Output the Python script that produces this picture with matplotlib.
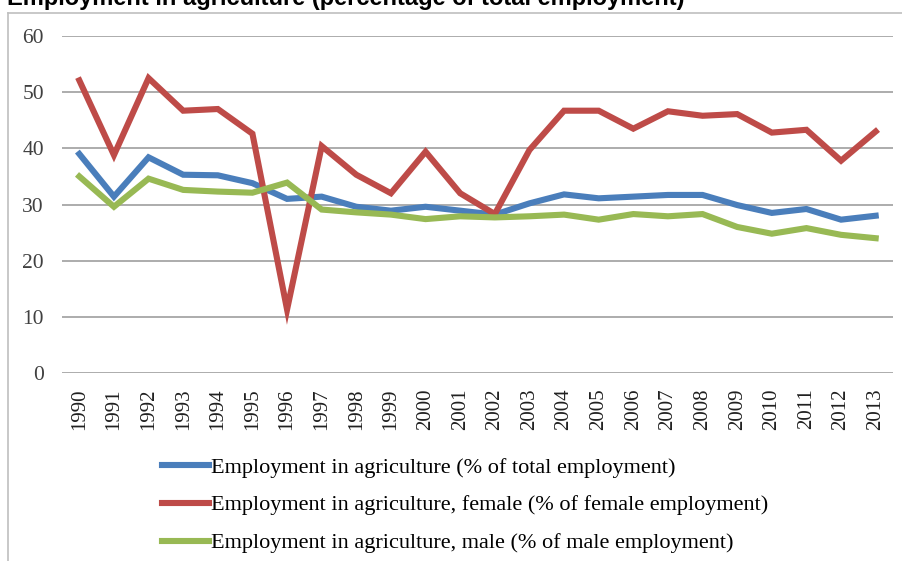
import matplotlib.pyplot as plt
from matplotlib.lines import Line2D

# Data
years = [str(y) for y in range(1990, 2014)]
total = [39.0, 31.4, 38.4, 35.3, 35.2, 33.8, 31.0, 31.4, 29.6, 28.9, 29.6, 28.9,
         28.2, 30.2, 31.8, 31.1, 31.4, 31.7, 31.7, 29.9, 28.5, 29.2, 27.3, 28.0]
female = [52.1, 38.8, 52.5, 46.7, 47.0, 42.6, 11.3, 40.4, 35.3, 32.0, 39.4, 32.0,
          28.3, 39.7, 46.7, 46.7, 43.5, 46.6, 45.8, 46.1, 42.8, 43.3, 37.8, 43.0]
male = [35.0, 29.6, 34.6, 32.6, 32.3, 32.1, 33.9, 29.1, 28.6, 28.2, 27.4, 27.9,
        27.7, 27.9, 28.2, 27.3, 28.3, 27.9, 28.3, 26.0, 24.8, 25.8, 24.6, 24.0]
labels = ["Employment in agriculture (% of total employment)",
          "Employment in agriculture, female (% of female employment)",
          "Employment in agriculture, male (% of male employment)"]
title = "Employment in agriculture (percentage of total employment)"

W, H = 903, 561
fig = plt.figure(figsize=(W / 100, H / 100), dpi=100)

# axes box in pixels: left 62, right 893, top 36, bottom 373
ax = fig.add_axes([62 / W, 1 - 373 / H, (893 - 62) / W, (373 - 36) / H])

x = range(len(years))
ax.plot(x, total, color="#4A7EBB", lw=4.4, solid_joinstyle="miter", label=labels[0])
ax.plot(x, female, color="#BE4B48", lw=4.4, solid_joinstyle="miter", label=labels[1])
ax.plot(x, male, color="#98B954", lw=4.4, solid_joinstyle="miter", label=labels[2])

ax.set_xlim(-0.5, len(years) - 0.5)
ax.set_ylim(0, 60)
ax.set_yticks(range(0, 61, 10))
ax.set_xticks(list(x))
ax.set_xticklabels(years, rotation=90, fontsize=15, family="Liberation Serif")
for t in ax.get_yticklabels():
    t.set_family("Liberation Serif")
    t.set_fontsize(15.5)
ax.tick_params(axis="y", length=0, pad=13, colors="#404040")
ax.tick_params(axis="x", length=0, pad=11, colors="#202020")
ax.grid(axis="y", color="#A6A6A6", lw=1.3)
ax.set_axisbelow(True)
for s in ax.spines.values():
    s.set_visible(False)

# chart border (left and top edges visible)
fig.add_artist(Line2D([8 / W, 8 / W], [0, 1 - 13 / H], color="#BFBFBF", lw=1.2))
fig.add_artist(Line2D([8 / W, 1], [1 - 13 / H, 1 - 13 / H], color="#BFBFBF", lw=1.2))

# title, clipped by the top edge as in the source image
fig.text(7 / W, 1 - 5 / H, title, fontsize=17, fontweight="bold",
         family="Liberation Sans", va="baseline", ha="left")

fig.legend(loc="upper left", bbox_to_anchor=(162 / W, 1 - 457 / H),
           frameon=False, borderpad=0, borderaxespad=0,
           handlelength=2.1, handletextpad=0.12, labelspacing=0.78,
           prop={"family": "Liberation Serif", "size": 16})

fig.savefig("out.png", dpi=100)
